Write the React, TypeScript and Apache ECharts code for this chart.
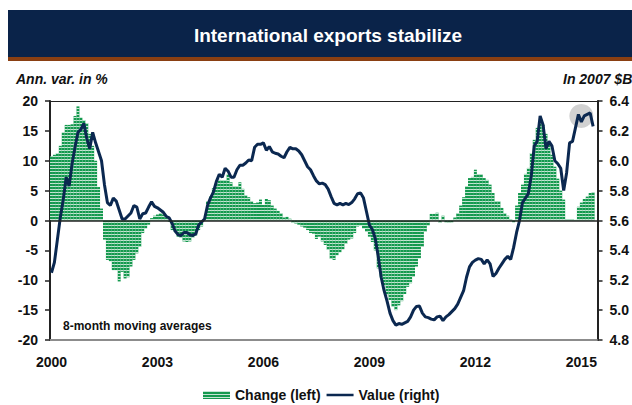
import React, { useEffect, useRef } from "react";
import * as echarts from "echarts";

const FONT = "'Liberation Sans', Arial, Helvetica, sans-serif";

const START_YEAR = 2000;
const MONTH_COUNT = 186;
const months: string[] = [];
for (let i = 0; i < MONTH_COUNT; i++) {
  const y = START_YEAR + Math.floor(i / 12);
  const m = (i % 12) + 1;
  months.push(`${y}-${m < 10 ? "0" + m : m}`);
}
const yearLabels = ["2000", "2003", "2006", "2009", "2012", "2015"];

// Annual variation in % (left axis), 8-month moving averages, monthly from Jan 2000
const changeValues = [
  10.7, 11.0, 11.3, 12.5, 14.7, 16.0, 16.0, 16.1, 17.5, 19.1, 17.2, 16.8,
  16.3, 14.5, 12.5, 10.0, 5.6, 2.0, -3.2, -6.6, -6.8, -8.3, -8.3, -10.2,
  -8.6, -9.7, -9.5, -7.7, -6.6, -5.5, -4.4, -2.1, -1.3, -0.7, 0.4, 0.8,
  1.0, 1.2, 1.0, 0.5, -0.2, -1.6, -1.9, -2.7, -2.9, -3.5, -3.6, -3.5,
  -2.9, -2.5, -1.6, -1.0, 0.2, 3.2, 4.0, 5.4, 6.3, 6.8, 6.7, 6.7,
  7.7, 6.4, 5.7, 5.7, 6.4, 5.3, 4.2, 3.9, 3.2, 2.9, 3.0, 3.5,
  2.6, 3.6, 3.4, 2.5, 2.0, 1.6, 1.2, 0.5, 0.6, 0.3, -0.4, -0.5,
  -0.7, -1.0, -1.2, -1.6, -2.1, -2.2, -3.1, -2.7, -3.5, -4.1, -4.9, -6.4,
  -6.6, -5.8, -5.3, -4.8, -3.9, -3.2, -3.0, -2.1, -1.0, -0.8, -1.3, -1.9,
  -2.7, -3.6, -5.0, -8.0, -9.5, -10.8, -12.5, -13.3, -14.4, -15.0, -14.2, -13.5,
  -12.3, -11.1, -10.5, -9.4, -7.7, -6.3, -4.4, -1.9, -0.8, 1.1, 1.1, 1.3,
  -0.4, 0.8, -0.3, -0.4, -0.3, 0.5, 1.2, 2.5, 3.9, 5.7, 7.1, 7.3,
  8.5, 7.7, 7.7, 7.1, 6.8, 6.0, 4.6, 3.2, 3.2, 2.1, 1.2, 0.8,
  0.2, -0.3, 2.5, 4.6, 6.0, 7.8, 8.8, 11.3, 13.5, 15.5, 16.5, 16.0,
  14.5, 13.0, 11.0, 9.0, 7.0, 5.0, 3.5, 0.2, 0.2, 0.2, 0.1, 2.3,
  3.0, 3.6, 4.0, 4.6, 4.7,
];

// Value in 2007 $B (right axis)
const valueValues = [
  5.25, 5.32, 5.47, 5.62, 5.74, 5.89, 5.83, 5.98, 6.09, 6.19, 6.21, 6.25,
  6.15, 6.08, 6.19, 6.12, 6.06, 6.0, 5.84, 5.72, 5.7, 5.75, 5.73, 5.67,
  5.61, 5.61, 5.63, 5.65, 5.7, 5.69, 5.61, 5.645, 5.65, 5.69, 5.725, 5.695,
  5.685, 5.67, 5.655, 5.627, 5.617, 5.58, 5.53, 5.505, 5.5, 5.52, 5.52, 5.505,
  5.5, 5.51, 5.57, 5.59, 5.61, 5.7, 5.75, 5.79, 5.86, 5.91, 5.89, 5.95,
  5.93, 5.89, 5.89, 5.94, 5.97, 5.97, 5.985, 6.005, 6.0, 6.09, 6.11, 6.11,
  6.12, 6.07, 6.095, 6.06, 6.05, 6.045, 6.03, 6.02, 6.06, 6.09, 6.08, 6.08,
  6.065, 6.04, 6.0, 5.96, 5.94, 5.9, 5.865, 5.845, 5.85, 5.84, 5.81, 5.76,
  5.715, 5.705, 5.715, 5.705, 5.715, 5.707, 5.72, 5.745, 5.78, 5.785, 5.75, 5.66,
  5.57, 5.54, 5.48, 5.36, 5.22, 5.13, 5.06, 4.98, 4.93, 4.9, 4.91, 4.905,
  4.915, 4.925, 4.955, 5.0, 5.025, 5.027, 4.98, 4.955, 4.95, 4.94, 4.935, 4.955,
  4.96, 4.93, 4.955, 4.97, 4.99, 5.01, 5.04, 5.085, 5.13, 5.22, 5.29, 5.32,
  5.335, 5.345, 5.34, 5.31, 5.336, 5.31, 5.225, 5.245, 5.28, 5.31, 5.34, 5.36,
  5.34, 5.42, 5.52, 5.6, 5.72, 5.75, 5.78, 5.9, 6.1, 6.13, 6.3, 6.24,
  6.08, 6.13, 6.1, 6.0, 5.98, 5.95, 5.8, 5.92, 6.12, 6.13, 6.22, 6.31,
  6.26, 6.3, 6.31, 6.32, 6.23,
];

const highlightPoint = [["2015-01", 6.3]];

// thin horizontal line icon for the line series in the legend (tiny corner marks keep the box 27x8)
const LINE_ICON =
  "path://M0,0L0.05,0L0.05,0.05Z M0,2.6L30,2.6L30,5.4L0,5.4Z M29.95,8L30,8L30,7.95Z";

export default function App() {
  const ref = useRef<HTMLDivElement>(null);
  useEffect(() => {
    if (!ref.current) return;
    const chart = echarts.init(ref.current, null, { renderer: "svg" });
    const axisLabelStyle = {
      fontSize: 14,
      fontWeight: "bold" as const,
      color: "#111",
      fontFamily: FONT,
    };
    chart.setOption({
      animation: false,
      backgroundColor: "#ffffff",
      textStyle: { fontFamily: FONT },
      graphic: [
        { type: "rect", shape: { x: 8, y: 10, width: 624, height: 47 }, style: { fill: "#0a2349" }, silent: true },
        { type: "rect", shape: { x: 8, y: 57, width: 624, height: 4 }, style: { fill: "#8a3f12" }, silent: true },
        {
          type: "text",
          style: { text: "International exports stabilize", x: 328, y: 35, textAlign: "center", textVerticalAlign: "middle", fill: "#ffffff", font: `bold 19px ${FONT}` },
          silent: true,
        },
        {
          type: "text",
          style: { text: "Ann. var. in %", x: 16, y: 79, textAlign: "left", textVerticalAlign: "middle", fill: "#111", font: `italic bold 14px ${FONT}` },
          silent: true,
        },
        {
          type: "text",
          style: { text: "In 2007 $B", x: 563, y: 79, textAlign: "left", textVerticalAlign: "middle", fill: "#111", font: `italic bold 14px ${FONT}` },
          silent: true,
        },
        {
          type: "text",
          style: { text: "8-month moving averages", x: 63, y: 326, textAlign: "left", textVerticalAlign: "middle", fill: "#111", font: `bold 12px ${FONT}` },
          silent: true,
        },
      ],
      grid: { left: 50, right: 31, top: 101, bottom: 65 },
      legend: {
        left: 203,
        top: 388,
        padding: 0,
        itemWidth: 27,
        itemHeight: 8,
        itemGap: 6,
        textStyle: { fontSize: 14, fontWeight: "bold", color: "#111", fontFamily: FONT },
        data: [
          { name: "Change (left)", icon: "rect" },
          { name: "Value (right)", icon: LINE_ICON },
        ],
      },
      xAxis: [
        {
          type: "category",
          data: months,
          position: "bottom",
          boundaryGap: true,
          axisLine: { onZero: false, lineStyle: { color: "#8c8c8c", width: 2 } },
          axisTick: { show: false },
          axisLabel: {
            ...axisLabelStyle,
            margin: 15,
            interval: (idx: number, val: string) =>
              val.endsWith("-01") && yearLabels.indexOf(val.slice(0, 4)) >= 0,
            formatter: (val: string) => val.slice(0, 4),
          },
          splitLine: { show: false },
        },
        {
          type: "category",
          data: months,
          position: "top",
          axisLine: { onZero: false, lineStyle: { color: "#222", width: 1 } },
          axisTick: { show: false },
          axisLabel: { show: false },
          splitLine: { show: false },
        },
      ],
      yAxis: [
        {
          type: "value",
          min: -20,
          max: 20,
          interval: 5,
          position: "left",
          axisLine: { show: true, lineStyle: { color: "#222", width: 2 } },
          axisTick: { show: true, length: 5, lineStyle: { color: "#222", width: 1.5 } },
          axisLabel: { ...axisLabelStyle, margin: 12 },
          splitLine: { show: false },
        },
        {
          type: "value",
          min: 4.8,
          max: 6.4,
          interval: 0.2,
          position: "right",
          axisLine: { show: true, lineStyle: { color: "#222", width: 2 } },
          axisTick: { show: true, length: 5, lineStyle: { color: "#222", width: 1.5 } },
          axisLabel: { ...axisLabelStyle, margin: 12, formatter: (v: number) => v.toFixed(1) },
          splitLine: { show: false },
        },
      ],
      series: [
        {
          name: "Change (left)",
          type: "bar",
          data: changeValues,
          barCategoryGap: "0%",
          itemStyle: {
            color: "#14994e",
            decal: {
              symbol: "rect",
              symbolSize: 1,
              color: "rgba(255,255,255,0.75)",
              dashArrayX: [[8, 0]],
              dashArrayY: [1, 2],
              rotation: 0,
            },
          },
          markLine: {
            silent: true,
            symbol: "none",
            label: { show: false },
            lineStyle: { color: "#222", width: 1.5, type: "solid" },
            data: [{ yAxis: 0 }],
          },
          z: 2,
        },
        {
          name: "Value (right)",
          type: "line",
          yAxisIndex: 1,
          data: valueValues,
          symbol: "none",
          showSymbol: false,
          lineStyle: { color: "#0b2850", width: 3 },
          itemStyle: { color: "#0b2850" },
          z: 4,
        },
        {
          name: "highlight",
          type: "scatter",
          yAxisIndex: 1,
          data: highlightPoint,
          symbol: "circle",
          symbolSize: 24,
          itemStyle: { color: "#c6c6c6" },
          silent: true,
          z: 1,
        },
      ],
    });
    return () => chart.dispose();
  }, []);
  return (
    <div
      ref={ref}
      style={{ position: "fixed", left: 0, top: 0, width: 632, height: 405, background: "#fff" }}
    />
  );
}
